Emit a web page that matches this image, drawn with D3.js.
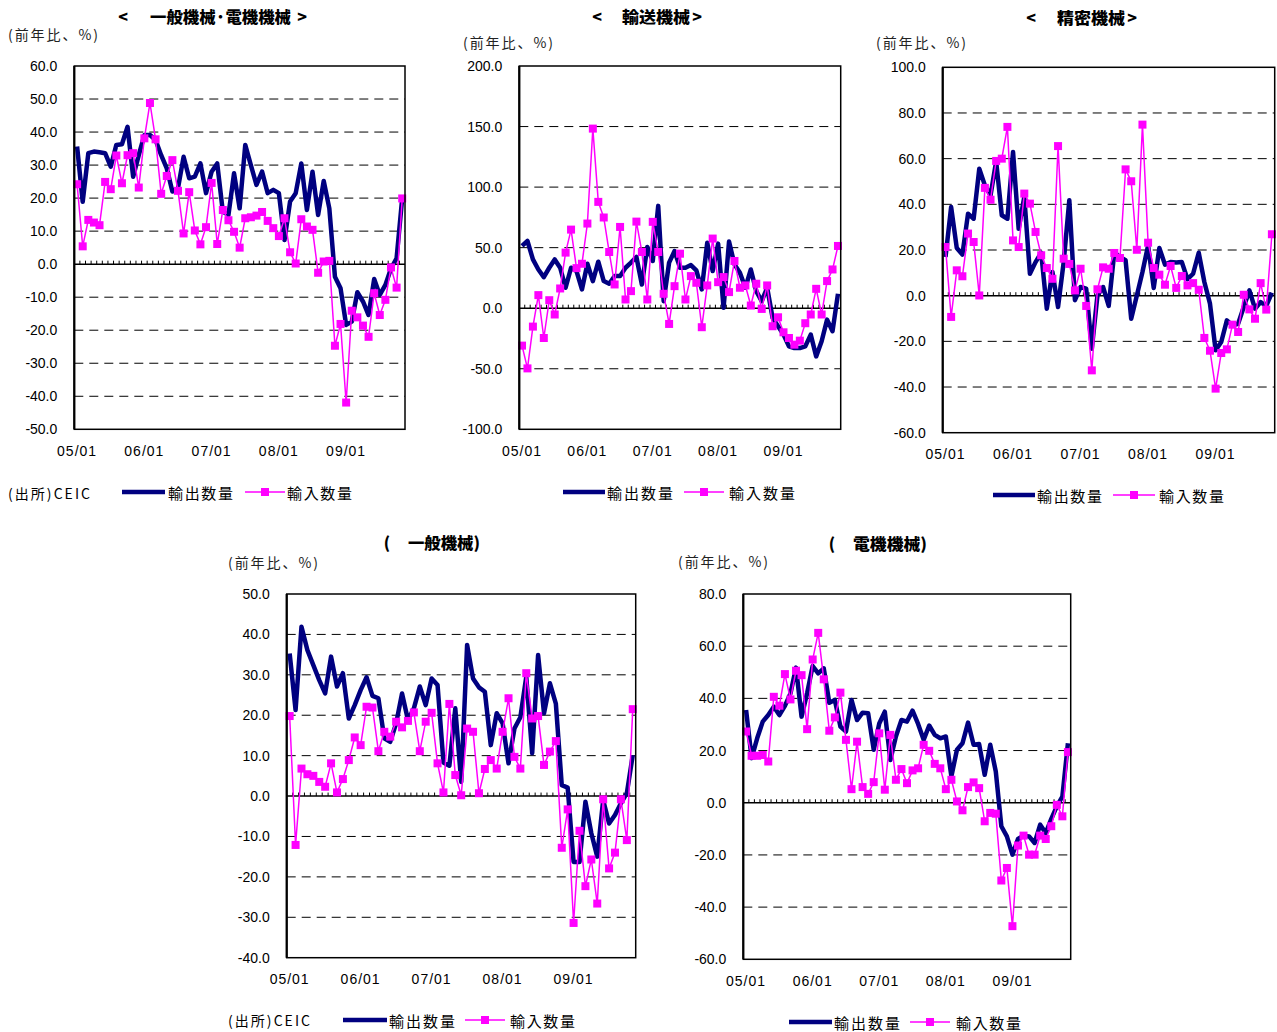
<!DOCTYPE html>
<html>
<head>
<meta charset="utf-8">
<script src="https://cdn.jsdelivr.net/npm/d3@7"></script>
<style>
  body { margin: 0; background: #fff; }
  svg { display: block; }
</style>
</head>
<body>
<svg id="chart" width="1277" height="1032"></svg>
<script>
// Monthly categories, 2005/01 – 2009/11
const months = [];
for (let yr = 5; yr <= 9; yr++) {
  for (let m = 1; m <= 12; m++) {
    months.push(String(yr).padStart(2, "0") + "/" + String(m).padStart(2, "0"));
  }
}
months.length = 59;
const xTickLabels = ["05/01", "06/01", "07/01", "08/01", "09/01"];

// 一般機械・電機機械 (year-on-year %)
const genElecExport = [35.6, 18.9, 33.6, 34.1, 33.9, 33.6, 29.5, 36.1, 36.3, 41.6,
  26.5, 33, 39.1, 39.1, 37.6, 33, 29, 22, 23, 32.5,
  26, 26.5, 30.5, 21.5, 28, 30.5, 15.9, 14.9, 27.5, 16.9,
  36.1, 30, 24, 28, 21.5, 22.5, 21.5, 7.3, 19, 21.5,
  30.5, 16.4, 28, 14.9, 25.2, 16.9, -3.8, -7.3, -18.4, -17.4,
  -8.5, -11.3, -15.4, -4.5, -9.3, -6.3, -1.3, 1.8, 19.9];
const genElecImport = [24.2, 5.4, 13.4, 12.6, 11.8, 24.9, 22.7, 32.9, 24.5, 33,
  33.6, 23.2, 38.1, 48.8, 37.8, 21.3, 26.7, 31.5, 22.2, 9.3,
  21.8, 10.2, 6.0, 11.2, 24.6, 6.1, 16.4, 13.3, 9.8, 5.0,
  13.9, 14.2, 14.7, 15.8, 13.1, 10.9, 8.5, 13.9, 3.6, 0.2,
  13.6, 11.4, 10.4, -2.6, 0.8, 1.0, -24.7, -18.1, -41.9, -14.1,
  -16.1, -18.6, -22.0, -8.8, -15.4, -10.8, -1.0, -7.1, 19.9];

// 輸送機械
const transportExport = [51.4, 55.5, 40.3, 32, 25.7, 33.4, 40.3, 33.4, 16.9, 33.4,
  30.7, 15.5, 36.7, 22.4, 38.4, 22.4, 20.2, 26.5, 26.5, 33.4,
  37.6, 42.3, 19.6, 50.6, 39, 84.5, 5.8, 37.6, 47.2, 33.4,
  33.4, 35.6, 31.2, 15.5, 54.1, 30.7, 53.3, 0.3, 55, 36.2,
  29.3, 16.9, 32, 14.1, 5.8, 16.9, -8, -14.9, -21.8, -31.5,
  -32.9, -32.9, -31.5, -21.8, -39.8, -27.3, -9.4, -19, 11.9];
const transportImport = [-30.9, -49.7, -15.2, 10.8, -24.6, 6.6, -5.2, 16.3, 45.9, 64.9,
  33.1, 36.7, 69.9, 148.3, 87.8, 74.9, 46.4, 19.6, 67.1, 7.2,
  14.1, 71.5, 46.4, 7.2, 71.3, 46.4, 11.9, -13, 18.2, 45,
  7.2, 26.5, 21, -15.7, 18.8, 57.5, 21.5, 25.7, 13.3, 39,
  16.9, 18.8, 2.2, 20.2, -0.6, 18.8, -14.9, -7.5, -19.9, -24.6,
  -30.1, -26.8, -12.4, -5.2, 16, -5.2, 22.4, 32, 51.4];

// 精密機械
const precisionExport = [16.9, 38.8, 20.9, 18, 35.9, 33.7, 55.6, 48.3, 43.9, 58.8,
  35.2, 33.7, 62.9, 29.3, 43.2, 9.6, 14.7, 18.8, -5.7, 10.4,
  -5, 14.7, 41.8, -2, 3.8, 3.1, -23.2, 0.1, 3.8, -4.5,
  19.1, 16.9, 15.5, -10.1, 0.1, 10.4, 22, 3.4, 20.9, 13.6,
  14.7, 14.5, 14.7, 7.2, 9.6, 18.8, 6, -3.5, -23.9, -20.3,
  -10.8, -13, -12.3, -5, 2.3, -5.7, -2.8, -4.5, 1.3];
const precisionImport = [21.3, -9.3, 11.1, 8.5, 27.2, 23.5, 0.1, 47.2, 42, 59,
  60, 73.9, 24.2, 21.3, 44.7, 40.3, 27.9, 17.7, 12.1, 7.4,
  65.5, 16.2, 13.9, 2.3, 11.8, -4.5, -32.7, 2.8, 12.4, 11.8,
  18.7, 16.5, 55.3, 50.1, 20.1, 74.9, 23.2, 12.1, 9.2, 4.8,
  13, 3.4, 8.6, 4.5, 5.5, 2.6, -18.5, -24.1, -40.7, -25.1,
  -23.5, -12.7, -15.9, 0.4, -6, -10.1, 5.5, -6.1, 26.9];

// 一般機械
const generalExport = [35.3, 21.3, 41.9, 36.1, 32.4, 28.7, 25.4, 34.5, 27.1, 30.4,
  19.2, 22.5, 26.2, 29.4, 24.8, 24.2, 14.3, 13.4, 18, 25.4,
  18.8, 21.7, 27.1, 22.5, 29.1, 27.5, 8.3, 7.5, 21.7, 3.5,
  37.4, 29.1, 26.9, 25.8, 12.6, 20.5, 18, 8.1, 16.7, 19.5,
  29.5, 10.6, 34.9, 20.5, 27.9, 22.9, 2.7, 2.1, -16.3, -16.3,
  -1.4, -9.2, -15, -1, -6.8, -4.7, -1.8, 0.7, 10.1];
const generalImport = [19.8, -12.1, 6.8, 5.4, 5, 3.5, 2.3, 8.1, 0.9, 4.2,
  8.9, 14.5, 12.6, 22.1, 21.9, 11.1, 15.9, 14.7, 18.4, 17,
  18.6, 20.7, 11.1, 18.4, 20.6, 8.1, 0.9, 22.8, 5.2, 0.2,
  16.7, 15.9, 0.7, 6.7, 8.9, 6.8, 15.9, 24.2, 9.7, 6.8,
  30.4, 19.2, 19.8, 7.7, 11, 13.6, -12.8, -3.3, -31.4, -8.6,
  -22.3, -15.7, -26.6, -0.8, -17.9, -14, -0.8, -10.9, 21.5];

// 電機機械
const electricExport = [35.5, 17.1, 24.7, 31.1, 33.6, 36.8, 33.6, 37.1, 41.9, 51.8,
  33, 42, 52.4, 49.6, 51.5, 38.3, 39.4, 29.2, 27.3, 39.4,
  31.7, 34.5, 34.3, 20.3, 30.4, 34.9, 16.4, 25.4, 31.7, 31.1,
  35.3, 30.2, 24.1, 29.6, 26, 24.7, 25.4, 10.1, 20.3, 22.8,
  30.7, 22.2, 22.5, 10.7, 22.2, 12, -9, -12.9, -19.9, -13.9,
  -12.6, -12.9, -15.4, -8.4, -11.6, -6.2, -1.4, 2.4, 22.8];
const electricImport = [27.3, 18, 18, 18.3, 15.8, 40.6, 37.2, 49.3, 39.6, 50.6,
  48.9, 28.2, 54.9, 65.1, 47.3, 27.6, 32.7, 42.2, 24.1, 5.2,
  23.4, 6, 3.4, 7.9, 26.6, 5, 26, 8.8, 12.9, 7.5,
  12.4, 13.2, 22.2, 19.9, 14.9, 13.2, 5.2, 8.8, 0.5, -2.9,
  6, 7.8, 5.6, -7.1, -3.9, -4.2, -29.8, -25, -47.3, -16.4,
  -12.6, -19.9, -19.9, -12.6, -13.9, -9, -0.8, -5.2, 19.4];

const seriesNames = ["輸出数量", "輸入数量"];
const unitLabel = "(前年比、%)";
const sourceLabel = "(出所)CEIC";

const EXPORT_COLOR = "#000080";
const IMPORT_COLOR = "#FF00FF";
const NUM_FONT = "'Liberation Sans', Arial, sans-serif";
const JP_FONT = "'Noto Sans CJK JP', 'Noto Sans CJK SC', sans-serif";

const panels = [
  {
    open: "<", title: "一般機械·電機機械", close: ">",
    openX: 123, titleX: 150, titleW: 141, closeX: 302, titleY: 16,
    exp: genElecExport, imp: genElecImport,
    yDomain: [-50, 60], yStep: 10,
    left: 74.3, top: 66, right: 405, bottom: 429.3,
    unitX: 8, unitY: 34,
    legend: { y: 492, navy: [122, 165], expText: [168, 65], pink: [245, 285], impText: [287, 65] },
    source: { x: 8, y: 493 }
  },
  {
    open: "<", title: "輸送機械", close: ">",
    openX: 597, titleX: 622, titleW: 68, closeX: 697, titleY: 16,
    exp: transportExport, imp: transportImport,
    yDomain: [-100, 200], yStep: 50,
    left: 519.3, top: 66, right: 840.7, bottom: 429.3,
    unitX: 463, unitY: 42,
    legend: { y: 492, navy: [563, 605], expText: [607, 66], pink: [684, 724], impText: [729, 66] }
  },
  {
    open: "<", title: "精密機械", close: ">",
    openX: 1031, titleX: 1057, titleW: 68, closeX: 1132, titleY: 17,
    exp: precisionExport, imp: precisionImport,
    yDomain: [-60, 100], yStep: 20,
    left: 942.7, top: 67.3, right: 1274.7, bottom: 432.7,
    unitX: 876, unitY: 42,
    legend: { y: 495, navy: [993, 1035], expText: [1037, 65], pink: [1113, 1155], impText: [1159, 65] }
  },
  {
    open: "(", title: "一般機械)", close: "",
    openX: 387, titleX: 408, titleW: 72, closeX: 0, titleY: 542,
    exp: generalExport, imp: generalImport,
    yDomain: [-40, 50], yStep: 10,
    left: 286.7, top: 594, right: 635.7, bottom: 957.7,
    unitX: 228, unitY: 562,
    legend: { y: 1020, navy: [343, 387], expText: [389, 66], pink: [465, 505], impText: [510, 65] },
    source: { x: 228, y: 1020 }
  },
  {
    open: "(", title: "電機機械)", close: "",
    openX: 832, titleX: 853, titleW: 74, closeX: 0, titleY: 543,
    exp: electricExport, imp: electricImport,
    yDomain: [-60, 80], yStep: 20,
    left: 743.3, top: 594, right: 1070.7, bottom: 959.3,
    unitX: 678, unitY: 561,
    legend: { y: 1022, navy: [789, 832], expText: [834, 66], pink: [910, 950], impText: [956, 65] }
  }
];

const svg = d3.select("#chart");

function drawPanel(p) {
  const g = svg.append("g");
  const x = d3.scalePoint().domain(months).range([p.left, p.right]).padding(0.5);
  const y = d3.scaleLinear().domain(p.yDomain).range([p.bottom, p.top]);
  const yTicks = d3.range(p.yDomain[0], p.yDomain[1] + p.yStep / 2, p.yStep);
  const step = x.step();

  // title
  const tg = g.append("g").attr("font-family", JP_FONT).attr("font-weight", 900)
    .attr("font-size", 16).attr("fill", "#000");
  tg.append("text").attr("x", p.openX).attr("y", p.titleY).attr("text-anchor", "middle")
    .attr("dominant-baseline", "central").text(p.open);
  tg.append("text").attr("x", p.titleX).attr("y", p.titleY)
    .attr("dominant-baseline", "central")
    .attr("textLength", p.titleW).attr("lengthAdjust", "spacingAndGlyphs").text(p.title);
  if (p.close) {
    tg.append("text").attr("x", p.closeX).attr("y", p.titleY).attr("text-anchor", "middle")
      .attr("dominant-baseline", "central").text(p.close);
  }

  // unit label
  g.append("text").attr("x", p.unitX).attr("y", p.unitY)
    .attr("dominant-baseline", "central")
    .attr("font-family", JP_FONT).attr("font-size", 14).attr("fill", "#222")
    .attr("textLength", 90).attr("lengthAdjust", "spacing").text(unitLabel);

  // dashed gridlines
  g.append("g").selectAll("line")
    .data(yTicks.filter(v => v !== 0 && v !== p.yDomain[0] && v !== p.yDomain[1]))
    .join("line")
    .attr("x1", p.left).attr("x2", p.right)
    .attr("y1", d => y(d)).attr("y2", d => y(d))
    .attr("stroke", "#000").attr("stroke-width", 1)
    .attr("stroke-dasharray", "9,6");

  // y-axis tick labels
  const yAxis = d3.axisLeft(y).tickValues(yTicks).tickSize(0).tickPadding(17)
    .tickFormat(d => d.toFixed(1));
  const ya = g.append("g").attr("transform", `translate(${p.left},0)`).call(yAxis);
  ya.select(".domain").remove();
  ya.selectAll("text").attr("font-family", NUM_FONT).attr("font-size", 14).attr("fill", "#000");

  // zero line with category boundary ticks
  const y0 = y(0);
  g.append("line").attr("x1", p.left).attr("x2", p.right).attr("y1", y0).attr("y2", y0)
    .attr("stroke", "#000").attr("stroke-width", 1.5);
  g.append("g").selectAll("line").data(months.slice(0, -1)).join("line")
    .attr("x1", d => x(d) + step / 2).attr("x2", d => x(d) + step / 2)
    .attr("y1", y0).attr("y2", y0 - 3.5)
    .attr("stroke", "#000").attr("stroke-width", 1);

  // x labels
  g.append("g").selectAll("text").data(xTickLabels).join("text")
    .attr("x", d => x(d)).attr("y", p.bottom + 21.5)
    .attr("text-anchor", "middle").attr("dominant-baseline", "central")
    .attr("font-family", NUM_FONT).attr("font-size", 14).attr("letter-spacing", 1)
    .attr("fill", "#000").text(d => d);

  // series
  const line = d3.line().x((d, i) => x(months[i])).y(d => y(d));
  g.append("path").datum(p.exp).attr("d", line)
    .attr("fill", "none").attr("stroke", EXPORT_COLOR).attr("stroke-width", 4.5)
    .attr("stroke-linejoin", "round");
  g.append("path").datum(p.imp).attr("d", line)
    .attr("fill", "none").attr("stroke", IMPORT_COLOR).attr("stroke-width", 1.5);
  g.append("g").selectAll("rect").data(p.imp).join("rect")
    .attr("x", (d, i) => x(months[i]) - 4).attr("y", d => y(d) - 4)
    .attr("width", 8).attr("height", 8).attr("fill", IMPORT_COLOR);

  // plot frame
  g.append("rect").attr("x", p.left).attr("y", p.top)
    .attr("width", p.right - p.left).attr("height", p.bottom - p.top)
    .attr("fill", "none").attr("stroke", "#000").attr("stroke-width", 1.5);
  g.append("line").attr("x1", p.left).attr("x2", p.left).attr("y1", p.top).attr("y2", p.bottom)
    .attr("stroke", "#000").attr("stroke-width", 2.2);

  // legend
  const L = p.legend;
  const lg = g.append("g");
  lg.append("line").attr("x1", L.navy[0]).attr("x2", L.navy[1]).attr("y1", L.y).attr("y2", L.y)
    .attr("stroke", EXPORT_COLOR).attr("stroke-width", 4.5);
  lg.append("text").attr("x", L.expText[0]).attr("y", L.y)
    .attr("dominant-baseline", "central").attr("font-family", JP_FONT).attr("font-size", 15)
    .attr("textLength", L.expText[1]).attr("lengthAdjust", "spacing").attr("fill", "#000")
    .text(seriesNames[0]);
  lg.append("line").attr("x1", L.pink[0]).attr("x2", L.pink[1]).attr("y1", L.y).attr("y2", L.y)
    .attr("stroke", IMPORT_COLOR).attr("stroke-width", 1.5);
  const mx = (L.pink[0] + L.pink[1]) / 2;
  lg.append("rect").attr("x", mx - 4).attr("y", L.y - 4).attr("width", 8).attr("height", 8)
    .attr("fill", IMPORT_COLOR);
  lg.append("text").attr("x", L.impText[0]).attr("y", L.y)
    .attr("dominant-baseline", "central").attr("font-family", JP_FONT).attr("font-size", 15)
    .attr("textLength", L.impText[1]).attr("lengthAdjust", "spacing").attr("fill", "#000")
    .text(seriesNames[1]);

  if (p.source) {
    g.append("text").attr("x", p.source.x).attr("y", p.source.y)
      .attr("dominant-baseline", "central").attr("font-family", JP_FONT).attr("font-size", 14)
      .attr("textLength", 82).attr("lengthAdjust", "spacing").attr("fill", "#000")
      .text(sourceLabel);
  }
}

panels.forEach(drawPanel);
</script>
</body>
</html>
